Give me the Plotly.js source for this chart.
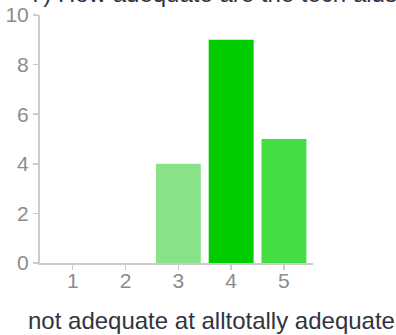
<!DOCTYPE html>
<html>
<head>
<meta charset="utf-8">
<script src="https://cdn.plot.ly/plotly-3.0.1.min.js"></script>
<style>
  html, body { margin: 0; padding: 0; background: #fff; }
  #chart { width: 396px; height: 335px; }
</style>
</head>
<body>
<div id="chart"></div>
<script>
// Rating scale 1..5 and number of responses per rating
const ratings = [1, 2, 3, 4, 5];
const responses = [0, 0, 4, 9, 5];
const yTicks = [0, 2, 4, 6, 8, 10];
const questionTitle = '7) How adequate are the tech aids?';
const scaleLabel = 'not adequate at alltotally adequate';

// one shade of green per rating
const barColors = ['#e5f8e5', '#b8eeb8', '#88e388', '#00cc00', '#44dd44'];

const axisGray = '#cccccc';
const textFamily = 'Liberation Sans, Arial, sans-serif';
const tickFont = { family: textFamily, size: 21, color: '#8c8c8c' };

const trace = {
  type: 'bar',
  x: ratings,
  y: responses,
  width: 0.85,
  marker: { color: barColors, line: { width: 0 } },
  hoverinfo: 'x+y'
};

const layout = {
  width: 396,
  height: 335,
  margin: { l: 40, r: 83, t: 15, b: 72, pad: 0 },
  paper_bgcolor: '#ffffff',
  plot_bgcolor: '#ffffff',
  showlegend: false,
  xaxis: {
    range: [0.38, 5.55],
    tickvals: ratings,
    ticktext: ratings.map(String),
    showline: true, linecolor: axisGray, linewidth: 2,
    ticks: 'outside', ticklen: 5, tickwidth: 1.5, tickcolor: axisGray,
    ticklabelstandoff: -7,
    showgrid: false, zeroline: false,
    tickfont: tickFont,
    fixedrange: true
  },
  yaxis: {
    range: [0, 10],
    tickvals: yTicks,
    showline: true, linecolor: axisGray, linewidth: 2,
    ticks: 'outside', ticklen: 5, tickwidth: 1.5, tickcolor: axisGray,
    showgrid: false, zeroline: false,
    tickfont: tickFont,
    fixedrange: true
  },
  annotations: [
    {
      // question heading, running off the top edge
      text: questionTitle,
      xref: 'paper', yref: 'paper',
      x: -0.044, xanchor: 'left',
      y: 1.087, yanchor: 'middle',
      showarrow: false,
      font: { family: textFamily, size: 24, color: '#333344' }
    },
    {
      // rating scale description under the axis
      text: scaleLabel,
      xref: 'paper', yref: 'paper',
      x: -0.05, xanchor: 'left',
      y: -0.171, yanchor: 'top',
      showarrow: false,
      font: { family: textFamily, size: 24, color: '#333340' }
    }
  ]
};

Plotly.newPlot('chart', [trace], layout, { displayModeBar: false, staticPlot: true });
</script>
</body>
</html>
